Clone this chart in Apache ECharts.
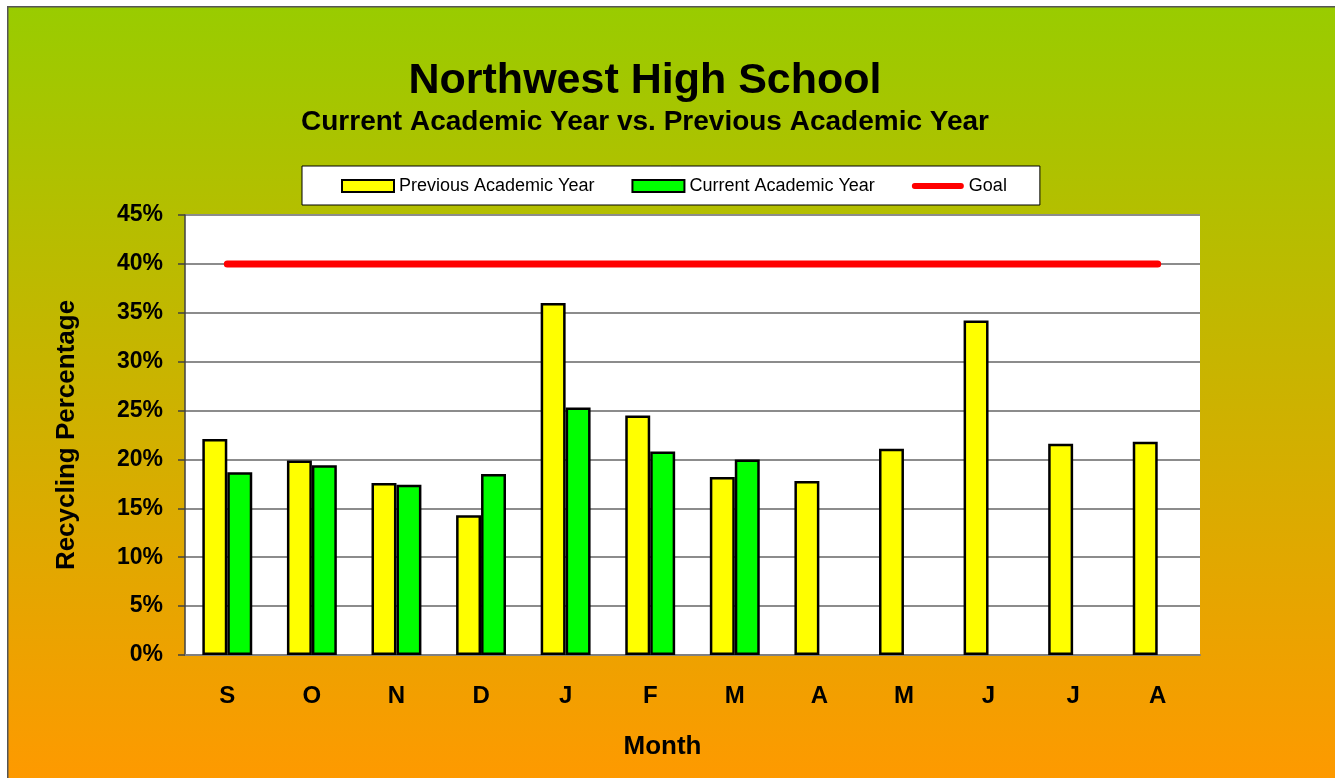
<!DOCTYPE html>
<html>
<head>
<meta charset="utf-8">
<title>Northwest High School</title>
<script src="https://cdn.jsdelivr.net/npm/echarts@6/dist/echarts.min.js"></script>
<style>
  html, body { margin: 0; padding: 0; background: #fff; }
  #main { width: 1335px; height: 778px; }
</style>
</head>
<body>
<div id="main"></div>
<script>
// data
var months = ['S', 'O', 'N', 'D', 'J', 'F', 'M', 'A', 'M', 'J', 'J', 'A'];
var previousYear = [22.1, 19.9, 17.6, 14.3, 36.0, 24.5, 18.2, 17.8, 21.1, 34.2, 21.6, 21.8];
var currentYear = [18.7, 19.4, 17.4, 18.5, 25.3, 20.8, 20.0, null, null, null, null, null];
var goal = [40, 40, 40, 40, 40, 40, 40, 40, 40, 40, 40, 40];

var font = '"Liberation Sans", Arial, sans-serif';

var myChart = echarts.init(document.getElementById('main'));

var option = {
    backgroundColor: '#fff',
    animation: false,
    textStyle: { fontFamily: font },
    graphic: [{
        type: 'rect',
        z: -10,
        left: 7, top: 6,
        shape: { width: 1340, height: 780 },
        style: {
            fill: new echarts.graphic.LinearGradient(0, 0, 0, 1, [
                { offset: 0, color: '#99CC00' },
                { offset: 1, color: '#FF9900' }
            ]),
            stroke: '#555',
            lineWidth: 1.5
        }
    }],
    title: {
        text: 'Northwest High School',
        subtext: 'Current Academic Year vs. Previous Academic Year',
        left: 640,
        textAlign: 'center',
        top: 55,
        itemGap: 5,
        textStyle: { fontSize: 43, fontWeight: 'bold', color: '#000', fontFamily: font },
        subtextStyle: { fontSize: 28, fontWeight: 'bold', color: '#000', fontFamily: font }
    },
    legend: {
        top: 166,
        left: 302,
        padding: [11, 33, 10, 39],
        backgroundColor: '#fff',
        borderColor: '#000',
        borderWidth: 1,
        itemGap: 37,
        itemWidth: 52,
        itemHeight: 12,
        textStyle: { fontSize: 18, color: '#000', fontFamily: font },
        data: [
            { name: 'Previous Academic Year', icon: 'rect', itemStyle: { color: '#FFFF00', borderColor: '#000', borderWidth: 2 } },
            { name: 'Current Academic Year', icon: 'rect', itemStyle: { color: '#00FF00', borderColor: '#000', borderWidth: 2 } },
            {
                name: 'Goal',
                icon: 'path://M3,0 L51,0 A3,3 0 0 1 51,6 L3,6 A3,3 0 0 1 3,0 Z',
                itemStyle: { color: '#FF0000', borderWidth: 0 }
            }
        ]
    },
    grid: {
        left: 185,
        right: 135,
        top: 215,
        bottom: 123,
        show: true,
        backgroundColor: '#fff',
        borderWidth: 0
    },
    xAxis: {
        type: 'category',
        data: months,
        name: 'Month',
        nameLocation: 'middle',
        nameGap: 79,
        nameTextStyle: { fontSize: 26, fontWeight: 'bold', color: '#000', fontFamily: font, padding: [0, 60, 0, 0] },
        axisLine: { lineStyle: { color: '#808080', width: 2 } },
        axisTick: { show: false },
        axisLabel: { fontSize: 24, fontWeight: 'bold', color: '#000', margin: 29, fontFamily: font }
    },
    yAxis: {
        type: 'value',
        min: 0,
        max: 45,
        interval: 5,
        name: 'Recycling Percentage',
        nameLocation: 'middle',
        nameGap: 105,
        nameTextStyle: { fontSize: 26, fontWeight: 'bold', color: '#000', fontFamily: font },
        axisLine: { show: true, lineStyle: { color: '#404040', width: 1.5 } },
        axisTick: { show: true, length: 7, lineStyle: { color: '#404040', width: 1.5 } },
        splitLine: { lineStyle: { color: '#8c8c8c', width: 2 } },
        axisLabel: { fontSize: 23, fontWeight: 'bold', color: '#000', margin: 22, formatter: '{value}%', fontFamily: font }
    },
    series: [{
        name: 'Previous Academic Year',
        type: 'bar',
        data: previousYear,
        barGap: 0,
        barCategoryGap: '41%',
        itemStyle: { color: '#FFFF00', borderColor: '#000', borderWidth: 2.5 }
    }, {
        name: 'Current Academic Year',
        type: 'bar',
        data: currentYear,
        itemStyle: { color: '#00FF00', borderColor: '#000', borderWidth: 2.5 }
    }, {
        name: 'Goal',
        type: 'line',
        data: goal,
        symbol: 'none',
        z: 5,
        lineStyle: { color: '#FF0000', width: 7, cap: 'round' },
        itemStyle: { color: '#FF0000' }
    }]
};

myChart.setOption(option);
</script>
</body>
</html>
